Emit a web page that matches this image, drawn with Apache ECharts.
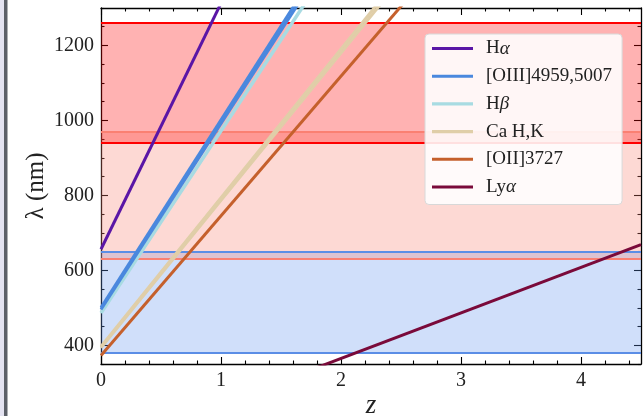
<!DOCTYPE html>
<html>
<head>
<meta charset="utf-8">
<script src="https://cdn.jsdelivr.net/npm/echarts@6/dist/echarts.min.js"></script>
<style>html,body{margin:0;padding:0;background:#fff;}#c{width:644px;height:416px;}</style>
</head>
<body>
<div id="c"></div>
<script>
// Redshift endpoints (z) and observed wavelengths (nm) at those endpoints
var zEnds = [0, 4.5];
var haVals = [656.3, 3609.7];
var oiii4959Vals = [495.9, 2727.5];
var oiii5007Vals = [500.7, 2753.9];
var hbVals = [486.1, 2673.6];
var caKVals = [393.4, 2163.7];
var caHVals = [396.8, 2182.4];
var oiiVals = [372.7, 2049.9];
var lyaVals = [121.6, 668.8];

// Spectrograph arm ranges (nm)
var blueArm = [380, 650];
var redArm = [630, 970];
var nirArm = [940, 1260];

var xMajor = [0, 1, 2, 3, 4];
var xMinor = [0.2,0.4,0.6,0.8,1.2,1.4,1.6,1.8,2.2,2.4,2.6,2.8,3.2,3.4,3.6,3.8,4.2,4.4];
var yMajor = [400, 600, 800, 1000, 1200];
var yMinor = [350,450,500,550,650,700,750,850,900,950,1050,1100,1150,1250,1300];

var legendNames = ['Hα', '[OIII]4959,5007', 'Hβ', 'Ca H,K', '[OII]3727', 'Lyα'];

function pts(vals) { return zEnds.map(function (z, i) { return [z, vals[i]]; }); }

var FONT = '"Liberation Serif", "Times New Roman", serif';
var chart = echarts.init(document.getElementById('c'), null, {renderer: 'canvas'});

function xAx(pos, major, showLabel, showLine) {
  return {
    type: 'value', position: pos, min: 0, max: 4.5,
    axisLine: {show: showLine, onZero: false, lineStyle: {color: '#000', width: 1.3}},
    axisTick: {show: true, inside: true, length: major ? 7 : 3.5, customValues: major ? xMajor : xMinor,
      lineStyle: {color: '#000', width: 1.1}},
    axisLabel: {show: showLabel, customValues: xMajor, color: '#222', fontFamily: FONT, fontSize: 20, margin: 7,
      formatter: function (v) { return String(v); }},
    splitLine: {show: false}
  };
}
function yAx(pos, major, showLabel, showLine) {
  return {
    type: 'value', position: pos, min: 350, max: 1300,
    axisLine: {show: showLine, onZero: false, lineStyle: {color: '#000', width: 1.3}},
    axisTick: {show: true, inside: true, length: major ? 7 : 3.5, customValues: major ? yMajor : yMinor,
      lineStyle: {color: '#000', width: 1.1}},
    axisLabel: {show: showLabel, customValues: yMajor, color: '#222', fontFamily: FONT, fontSize: 20, margin: 7,
      formatter: function (v) { return String(v); }},
    splitLine: {show: false}
  };
}

function lineSeries(name, vals, color, width, z) {
  return {
    name: name, type: 'line', data: pts(vals), symbol: 'none', z: z, silent: true,
    lineStyle: {color: color, width: width}, itemStyle: {color: color}, animation: false
  };
}

var option = {
  animation: false,
  grid: {left: 101, right: 3, top: 8, bottom: 52},
  xAxis: [xAx('bottom', true, true, true), xAx('bottom', false, false, false),
          xAx('top', true, false, true), xAx('top', false, false, false)],
  yAxis: [yAx('left', true, true, true), yAx('left', false, false, false),
          yAx('right', true, false, true), yAx('right', false, false, false)],
  legend: {
    data: legendNames, orient: 'vertical', left: 425, top: 34, z: 20,
    icon: 'path://M0,0H40V3H0Z',
    itemWidth: 41, itemHeight: 14, itemGap: 8.7,
    padding: [5, 10, 8, 7],
    backgroundColor: 'rgba(255,255,255,0.88)', borderColor: '#d8d8d8', borderWidth: 1, borderRadius: 4,
    textStyle: {fontFamily: FONT, fontSize: 19, lineHeight: 19, color: '#222', padding: [0, 0, 0, 8],
      rich: {i: {fontFamily: FONT, fontStyle: 'italic', fontSize: 19, lineHeight: 19, color: '#222'}}},
    formatter: function (n) { return n.replace('α', '{i|α}').replace('β', '{i|β}'); }
  },
  graphic: [
    {type: 'rect', shape: {x: 0, y: 0, width: 4, height: 416}, style: {fill: '#e4e3f1'}},
    {type: 'rect', shape: {x: 4, y: 0, width: 3.5, height: 416}, style: {fill: '#5c6068'}},
    {type: 'text', x: 36, y: 186, rotation: Math.PI / 2, style: {text: 'λ (nm)', font: '25px "Liberation Serif", serif', fill: '#222', align: 'center', verticalAlign: 'middle'}},
    {type: 'text', x: 371, y: 406, style: {text: 'z', font: 'italic 27px "Liberation Serif", serif', fill: '#222', align: 'center', verticalAlign: 'middle'}}
  ],
  series: [
    {
      name: 'bands', type: 'line', data: [], z: 1, silent: true,
      markArea: {silent: true, label: {show: false},
        data: [
          [{yAxis: blueArm[0], itemStyle: {color: 'rgba(100,149,237,0.3)'}}, {yAxis: blueArm[1]}],
          [{yAxis: redArm[0], itemStyle: {color: 'rgba(250,128,114,0.3)'}}, {yAxis: redArm[1]}],
          [{yAxis: nirArm[0], itemStyle: {color: 'rgba(255,0,0,0.3)'}}, {yAxis: nirArm[1]}]
        ]},
      markLine: {silent: true, symbol: 'none', label: {show: false},
        data: [
          {yAxis: blueArm[0], lineStyle: {color: '#5b8ee6', width: 2, type: 'solid'}},
          {yAxis: blueArm[1], lineStyle: {color: '#5b8ee6', width: 2, type: 'solid'}},
          {yAxis: redArm[0], lineStyle: {color: '#fa8072', width: 2, type: 'solid'}},
          {yAxis: redArm[1], lineStyle: {color: '#fa8072', width: 2, type: 'solid'}},
          {yAxis: nirArm[0], lineStyle: {color: '#ff0000', width: 2, type: 'solid'}},
          {yAxis: nirArm[1], lineStyle: {color: '#ff0000', width: 2, type: 'solid'}}
        ]}
    },
    lineSeries('Hα', haVals, '#5a16a6', 3, 5),
    lineSeries('Hβ', hbVals, '#a8dbe2', 3.5, 5),
    lineSeries('[OIII]4959,5007', oiii4959Vals, '#4a88de', 3, 6),
    lineSeries('[OIII]4959,5007', oiii5007Vals, '#4a88de', 3, 6),
    lineSeries('Ca H,K', caKVals, '#e0cea8', 3, 5),
    lineSeries('Ca H,K', caHVals, '#e0cea8', 3, 5),
    lineSeries('[OII]3727', oiiVals, '#c5602c', 3, 5),
    lineSeries('Lyα', lyaVals, '#7a0a3a', 3, 5)
  ]
};
chart.setOption(option);
</script>
</body>
</html>
